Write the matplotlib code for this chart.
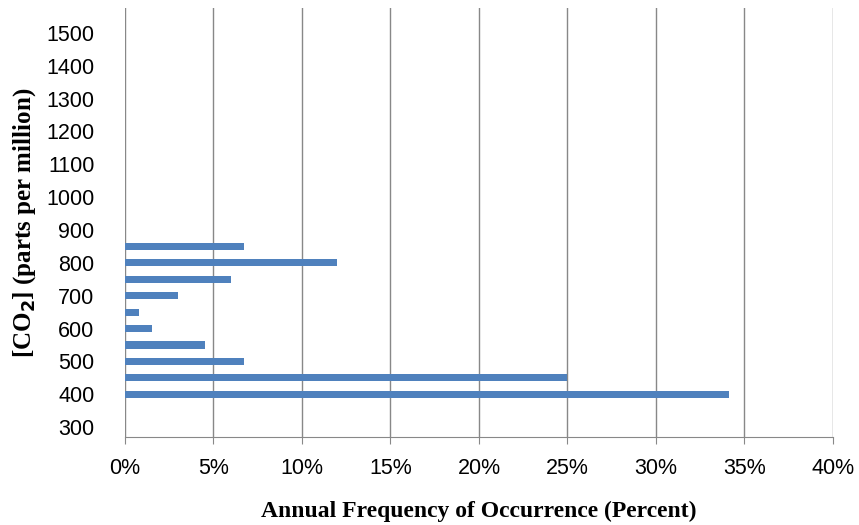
import matplotlib.pyplot as plt
from matplotlib.ticker import FuncFormatter

co2 = [400, 450, 500, 550, 600, 650, 700, 750, 800, 850]
freq = [34.1, 25.0, 6.7, 4.5, 1.5, 0.8, 3.0, 6.0, 12.0, 6.7]
yticks = list(range(300, 1600, 100))

fig = plt.figure(figsize=(8.59, 5.25), dpi=100)
ax = fig.add_axes([0.1455, 0.1676, 0.8242, 0.8174])

ax.barh(co2, freq, height=22, color='#4f81bd', zorder=3)

ax.set_xlim(0, 40)
ax.set_ylim(270, 1576)
ax.set_xticks(range(0, 41, 5))
ax.xaxis.set_major_formatter(FuncFormatter(lambda v, p: f'{v:.0f}%'))
ax.set_yticks(yticks)
ax.tick_params(axis='y', length=0, labelsize=15.5, pad=22)
ax.tick_params(axis='x', length=5, color='#888888', labelsize=15.5, direction='out', pad=10)
ax.grid(axis='x', color='#888888', linewidth=1, zorder=0)
for s in ['top', 'right', 'left']:
    ax.spines[s].set_visible(False)
ax.spines['bottom'].set_color('#888888')

for lab in ax.get_xticklabels() + ax.get_yticklabels():
    lab.set_fontfamily('Liberation Sans')

ax.set_xlabel('Annual Frequency of Occurrence (Percent)', fontfamily='Liberation Serif',
              fontweight='bold', fontsize=17, labelpad=16)
ax.set_ylabel(r'[CO$_\mathbf{2}$] (parts per million)', fontfamily='Liberation Serif',
              fontweight='bold', fontsize=18, labelpad=6)

fig.savefig('out.png')
